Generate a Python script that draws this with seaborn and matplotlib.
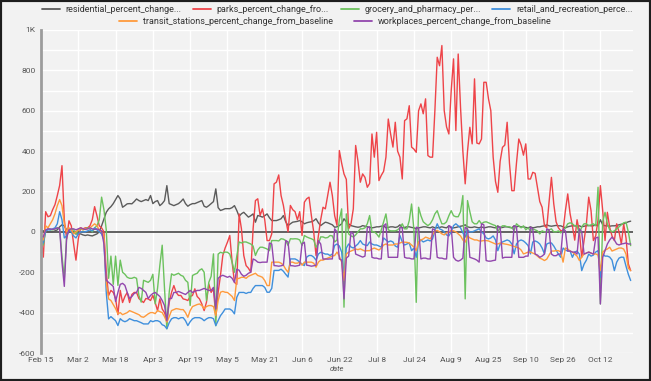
import matplotlib
matplotlib.use("Agg")
import matplotlib.pyplot as plt
from matplotlib.lines import Line2D
from matplotlib.patches import Rectangle
import pandas as pd
import seaborn as sns

START = "2020-02-15"

# one row per week (Sat .. Fri)
residential = [
    5, 5, 5, 0, 0, 0, 5,
    10, 25, 35, 30, 10, 0, 0,
    -5, -10, -10, -10, -15, -18, -15,
    -18, -20, -15, -10, 0, 30, 64,
    97, 114, 125, 140, 160, 180, 163,
    122, 130, 139, 140, 139, 150, 163,
    155, 150, 155, 160, 155, 180, 140,
    150, 155, 130, 140, 155, 229, 140,
    135, 130, 135, 140, 150, 163, 140,
    127, 135, 140, 140, 145, 150, 155,
    127, 122, 130, 140, 150, 213, 120,
    106, 110, 115, 115, 115, 120, 130,
    106, 77, 90, 97, 85, 73, 80,
    89, 48, 81, 78, 73, 80, 89,
    70, 56, 56, 56, 60, 65, 81,
    50, 31, 40, 48, 50, 52, 56,
    50, 40, 45, 48, 50, 55, 65,
    45, 31, 40, 48, 45, 40, 35,
    23, 25, 31, 40, 65, 50, 40,
    31, 28, 25, 23, 25, 31, 28,
    25, 23, 20, 22, 25, 25, 28,
    30, 20, 22, 25, 25, 22, 25,
    35, 20, 22, 25, 25, 22, 20,
    15, 20, 22, 25, 25, 22, 20,
    25, 20, 20, 22, 25, 22, 20,
    30, 20, 20, 22, 25, 28, 30,
    35, 25, 22, 22, 25, 22, 20,
    25, 20, 22, 25, 25, 22, 20,
    30, 20, 22, 25, 25, 22, 20,
    30, 25, 28, 25, 25, 22, 20,
    25, 20, 22, 25, 25, 28, 30,
    35, 30, 28, 30, 32, 30, 30,
    25, 20, 25, 28, 30, 30, 28,
    30, 25, 28, 30, 32, 30, 30,
    35, 30, 60, 35, 30, 30, 28,
    30, 30, 32, 35, 38, 40, 45,
    50, 53,
]

parks = [
    -15, -125, 100, 75, 80, 110, 135,
    180, 230, 328, 60, -35, 55, 30,
    -60, -140, -35, 20, 15, 20, 20,
    30, 60, 125, 80, 30, 20, 0,
    -200, -315, -290, -300, -330, -410, -290,
    -350, -320, -300, -350, -310, -300, -300,
    -330, -340, -350, -330, -332, -340, -315,
    -350, -390, -332, -382, -400, -440, -350,
    -300, -266, -300, -315, -315, -332, -335,
    -340, -320, -315, -282, -320, -332, -357,
    -390, -348, -258, -300, -282, -423, -300,
    -216, -117, -80, -51, -18, -150, -250,
    -260, 89, 15, -117, -167, -180, -200,
    15, 155, 164, 81, 114, 60, -43,
    -43, -10, 238, 246, 282, 180, 131,
    60, 0, 131, 110, 100, 60, 100,
    -18, 147, 164, 172, 81, 0, -117,
    -20, 60, 122, 114, 180, 246, 180,
    80, 32, 403, 340, 287, 260, 15,
    40, 114, 428, 350, 246, 287, 270,
    221, 240, 485, 370, 493, 254, 280,
    300, 370, 559, 485, 420, 543, 400,
    370, 262, 551, 560, 625, 420, 410,
    394, 600, 634, 585, 659, 378, 370,
    370, 601, 865, 823, 923, 601, 520,
    485, 700, 857, 502, 881, 617, 400,
    238, 400, 518, 436, 758, 440, 436,
    460, 741, 741, 659, 600, 370, 250,
    196, 350, 419, 430, 543, 340, 204,
    204, 340, 460, 430, 380, 436, 262,
    262, 295, 290, 221, 150, 122, 31,
    20, 150, 270, 139, 50, 20, 6,
    6, 105, 188, 90, 30, -41, 60,
    0, -126, -43, 40, 172, 105, -43,
    -20, 60, 229, 105, -43, 97, 22,
    -20, -43, 40, 0, -60, 39, -30,
    -159, -192,
]

grocery = [
    -35, -65, 5, 15, 10, 10, 15,
    20, 15, -120, -230, -20, 10, 15,
    10, -10, 10, 15, 10, 15, 20,
    15, 0, 20, 30, 60, 172, 110,
    10, -230, -120, -260, -120, -265, -140,
    -200, -210, -225, -230, -230, -225, -230,
    -315, -348, -240, -245, -250, -240, -210,
    -357, -280, -165, -66, -282, -480, -300,
    -208, -215, -210, -205, -215, -220, -240,
    -250, -365, -216, -210, -205, -190, -183,
    -200, -340, -250, -220, -109, -465, -110,
    -101, -105, -100, -101, -110, -150, -200,
    -120, -50, -55, -50, -50, -55, -60,
    -70, -117, -90, -76, -76, -80, -85,
    -93, -43, -43, -43, -45, -34, -36,
    -43, -67, -34, -35, -34, -35, -40,
    -67, -18, -25, -30, -34, -40, -76,
    -60, -25, -25, -30, -28, -18, -20,
    -50, -40, 60, 114, -373, 89, -10,
    -20, -25, -15, 0, 15, 15, 20,
    40, 81, 0, 0, -10, -26, 10,
    50, 89, 10, 5, 5, 5, 10,
    20, 40, 15, 15, 56, 138, 10,
    -349, 122, 80, 50, 40, 31, 40,
    60, 89, 105, 70, 40, 40, 50,
    80, 105, 80, 75, 75, 100, 180,
    -332, 155, 100, 50, 40, 40, 56,
    40, 48, 50, 45, 40, 35, 31,
    0, 20, 30, 30, 25, 25, 20,
    7, 40, 30, 20, 30, 10, 20,
    5, 15, 10, 5, -10, 5, 0,
    0, 10, 15, 0, 0, 5, -5,
    5, 20, 40, 45, 40, 30, 30,
    -10, 25, 40, 40, 30, 35, 40,
    30, 221, -357, 50, 97, 40, 10,
    0, 5, 15, 25, 35, 45, 48,
    0, -68,
]

retail = [
    -40, -55, 5, 10, 10, 15, 20,
    40, 100, 60, -30, -20, 10, 0,
    -20, -30, -10, 0, 0, 0, 5,
    10, 5, 20, 10, 0, -10, -40,
    -300, -431, -420, -430, -440, -464, -430,
    -440, -445, -440, -430, -435, -440, -440,
    -445, -450, -456, -456, -456, -440, -445,
    -440, -440, -445, -460, -465, -480, -450,
    -431, -425, -425, -431, -425, -425, -440,
    -464, -445, -431, -425, -425, -425, -430,
    -440, -431, -425, -425, -430, -464, -440,
    -415, -400, -382, -382, -382, -390, -406,
    -324, -300, -300, -300, -305, -300, -300,
    -280, -266, -266, -266, -266, -275, -299,
    -299, -280, -191, -191, -191, -185, -195,
    -210, -224, -134, -134, -134, -140, -150,
    -160, -167, -125, -117, -117, -125, -140,
    -110, -101, -105, -110, -110, -117, -110,
    -67, -60, -70, -100, -233, -80, -60,
    -75, -80, -70, -60, -43, -60, -65,
    -68, -50, -60, -65, -65, -70, -76,
    -30, -40, -50, -45, -50, -70, -76,
    -18, -50, -65, -60, -55, -93, -80,
    -126, -50, -40, -50, -45, -40, -45,
    -35, 10, 40, 15, 10, 0, -15,
    -20, 0, 31, 40, 30, 20, -5,
    -26, 10, 0, 0, 5, 10, 15,
    0, -10, -30, -35, -30, -20, -40,
    -93, -60, -50, -45, -40, -45, -60,
    -109, -60, -45, -40, -45, -55, -68,
    -109, -50, -45, -50, -60, -80, -109,
    -60, -55, -55, -70, -90, -110, -126,
    -80, -90, -95, -95, -126, -100, -95,
    -110, -192, -160, -140, -110, -120, -115,
    -100, -93, -225, -110, -120, -120, -125,
    -140, -192, -150, -130, -125, -126, -170,
    -210, -241,
]

transit = [
    -20, -40, 30, 20, 40, 60, 90,
    130, 160, 130, 40, 0, 20, 10,
    -10, 0, 10, 20, 10, 15, 15,
    20, 30, 40, 30, 10, 0, -20,
    -250, -332, -340, -360, -380, -406, -400,
    -410, -405, -400, -390, -395, -400, -405,
    -410, -420, -423, -415, -406, -400, -400,
    -405, -390, -395, -400, -420, -447, -420,
    -390, -385, -380, -382, -385, -385, -400,
    -423, -390, -370, -365, -360, -357, -365,
    -380, -370, -365, -365, -370, -415, -340,
    -299, -295, -299, -300, -310, -320, -340,
    -233, -230, -225, -225, -230, -220, -215,
    -210, -205, -216, -220, -225, -241, -266,
    -266, -150, -150, -150, -150, -155, -165,
    -185, -200, -150, -150, -155, -155, -150,
    -165, -150, -150, -150, -150, -155, -175,
    -150, -140, -140, -135, -130, -125, -120,
    -117, -100, -120, -150, -241, -110, -100,
    -95, -90, -85, -88, -84, -90, -95,
    -93, -93, -85, -80, -85, -90, -80,
    -65, -60, -65, -65, -65, -60, -60,
    -55, -51, -51, -52, -55, -65, -75,
    -93, -50, -40, -35, -26, -30, -35,
    -15, 5, 7, 0, -10, -15, -5,
    0, 7, 5, 0, -10, -20, -40,
    -51, -20, -30, -35, -40, -40, -45,
    -45, -43, -43, -45, -50, -55, -60,
    -60, -55, -58, -60, -62, -65, -68,
    -72, -76, -80, -90, -109, -105, -100,
    -100, -105, -110, -120, -130, -135, -142,
    -135, -115, -95, -95, -93, -93, -100,
    -150, -80, -85, -95, -100, -110, -120,
    -142, -125, -110, -105, -100, -105, -110,
    -109, -115, -192, -100, -90, -85, -76,
    -95, -90, -85, -80, -80, -85, -110,
    -180, -192,
]

workplaces = [
    -20, -25, 10, 15, 15, 12, 15,
    20, 15, -150, -270, -30, 10, 15,
    15, 10, 15, 20, 15, 12, 15,
    20, 15, 12, 15, 10, 5, -60,
    -240, -250, -260, -270, -345, -300, -260,
    -255, -265, -300, -330, -320, -305, -300,
    -275, -280, -290, -300, -330, -315, -305,
    -300, -310, -320, -340, -365, -440, -330,
    -330, -300, -300, -295, -300, -305, -310,
    -300, -290, -300, -295, -290, -290, -285,
    -280, -285, -290, -290, -275, -382, -230,
    -220, -215, -220, -225, -220, -230, -250,
    -185, -190, -210, -220, -215, -205, -200,
    -134, -140, -150, -152, -150, -150, -150,
    -55, -60, -167, -168, -170, -168, -165,
    -43, -50, -167, -168, -170, -168, -165,
    -60, -51, -165, -167, -170, -168, -165,
    -43, -60, -135, -134, -135, -134, -134,
    15, 0, -134, -140, -332, -130, -120,
    0, -10, -110, -115, -120, -125, -120,
    20, 25, -126, -130, -130, -134, -134,
    30, 40, -126, -126, -126, -126, -126,
    23, 20, -126, -130, -130, -134, -134,
    23, 20, -134, -130, -130, -134, -134,
    15, 10, -126, -130, -130, -134, -134,
    31, 25, -126, -140, -145, -140, -130,
    23, 15, -126, -130, -134, -140, -150,
    40, 35, -142, -145, -145, -142, -140,
    23, 25, -130, -126, -126, -126, -126,
    31, 25, -126, -126, -126, -120, -120,
    23, 15, -110, -115, -126, -120, -110,
    15, 10, -110, -118, -118, -110, -110,
    15, 5, -95, -95, -100, -100, -110,
    15, 0, -110, -105, -100, -105, -110,
    -30, -26, -357, -126, -93, -60, -40,
    -26, -40, -60, -65, -60, -58, -55,
    -60, -60,
]

SERIES = [
    "residential_percent_change_from_baseline",
    "parks_percent_change_from_baseline",
    "grocery_and_pharmacy_percent_change_from_baseline",
    "retail_and_recreation_percent_change_from_baseline",
    "transit_stations_percent_change_from_baseline",
    "workplaces_percent_change_from_baseline",
]
LEGEND_LABELS = [
    "residential_percent_change...",
    "parks_percent_change_fro...",
    "grocery_and_pharmacy_per...",
    "retail_and_recreation_perce...",
    "transit_stations_percent_change_from_baseline",
    "workplaces_percent_change_from_baseline",
]
COLORS = ["#5b5b5b", "#ee4449", "#6cc25e", "#3f8fdc", "#ff9a3c", "#9247ad"]
Y_TICKS = [-600, -400, -200, 0, 200, 400, 600, 800, 1000]
Y_TICK_LABELS = ["-600", "-400", "-200", "0", "200", "400", "600", "800", "1K"]

values = [residential, parks, grocery, retail, transit, workplaces]
n_days = len(residential)
assert all(len(v) == n_days for v in values), [len(v) for v in values]

dates = pd.date_range(START, periods=n_days, freq="D")
wide = pd.DataFrame({name: v for name, v in zip(SERIES, values)}, index=dates)
wide.index.name = "date"
long = wide.reset_index().melt(id_vars="date", var_name="series", value_name="value")

sns.set_theme(style="whitegrid")
plt.rcParams["font.family"] = ["Roboto", "DejaVu Sans"]

BG = "#f2f2f2"
fig = plt.figure(figsize=(6.51, 3.81), dpi=100)
fig.patch.set_facecolor(BG)
ax = fig.add_axes([41 / 651, 1 - 353 / 381, 592 / 651, 323 / 381])
ax.set_facecolor(BG)

ax.axhline(0, color="#555555", lw=1.3, zorder=1.5)
sns.lineplot(
    data=long,
    x="date",
    y="value",
    hue="series",
    hue_order=SERIES,
    palette=dict(zip(SERIES, COLORS)),
    linewidth=1.0,
    legend=False,
    ax=ax,
    zorder=2,
)

start = pd.Timestamp(START)
xticks = [start + pd.Timedelta(days=16 * k) for k in range(16)]
ax.set_xticks(xticks)
ax.set_xticklabels([f"{d:%b} {d.day}" for d in xticks])
ax.set_xlim(start, start + pd.Timedelta(days=254))
ax.set_ylim(-600, 1000)
ax.set_yticks(Y_TICKS)
ax.set_yticklabels(Y_TICK_LABELS)
ax.set_yticks(range(-600, 1001, 100), minor=True)

ax.grid(True, which="both", color="white", lw=1.0)
ax.set_axisbelow(True)
ax.tick_params(axis="both", length=0, labelsize=6, colors="#555555")
ax.tick_params(axis="x", pad=3)
ax.tick_params(axis="y", pad=4)
for side in ["top", "right", "bottom"]:
    ax.spines[side].set_visible(False)
ax.spines["left"].set_color("#9c9c9c")
ax.spines["left"].set_linewidth(2)
ax.set_xlabel("date", fontsize=5.5, color="#555555", style="italic", labelpad=2)
ax.set_ylabel("")

handles = [Line2D([], [], color=c, lw=1.3) for c in COLORS]
common = dict(loc="center", frameon=False, fontsize=6.5, handlelength=2.0,
              handletextpad=0.6, labelcolor="#333333")
leg1 = fig.legend(handles[:4], LEGEND_LABELS[:4], ncol=4, columnspacing=1.3,
                  bbox_to_anchor=(0.518, 1 - 10 / 381), **common)
leg2 = fig.legend(handles[4:], LEGEND_LABELS[4:], ncol=2, columnspacing=2.4,
                  bbox_to_anchor=(0.515, 1 - 22 / 381), **common)

fig.add_artist(Rectangle((0, 0), 1, 1, transform=fig.transFigure, fill=False,
                         edgecolor="#1e1e1e", lw=3))

fig.savefig("out.png", dpi=100, facecolor=BG)
